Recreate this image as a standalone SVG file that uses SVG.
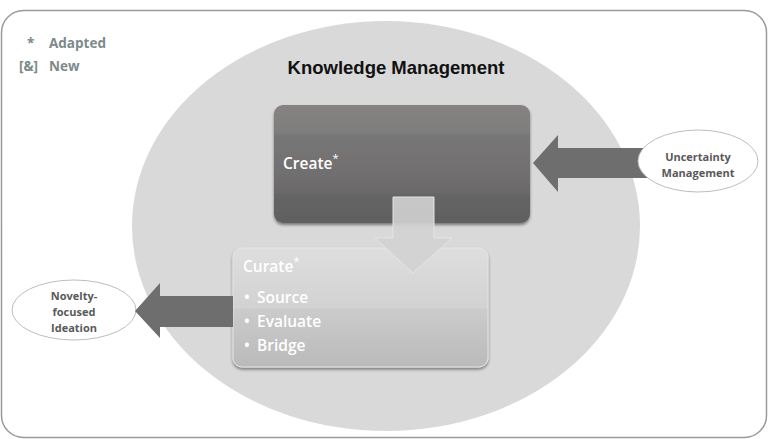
<svg xmlns="http://www.w3.org/2000/svg" width="768" height="439" viewBox="0 0 768 439">
<defs>
<linearGradient id="gCreate" x1="0" y1="0" x2="0" y2="1">
<stop offset="0" stop-color="#878282"/>
<stop offset="0.24" stop-color="#7e7d7d"/>
<stop offset="0.26" stop-color="#777676"/>
<stop offset="0.5" stop-color="#737171"/>
<stop offset="0.74" stop-color="#6b6a6a"/>
<stop offset="0.76" stop-color="#656565"/>
<stop offset="1" stop-color="#606060"/>
</linearGradient>
<linearGradient id="gCurate" x1="0" y1="0" x2="0" y2="1">
<stop offset="0" stop-color="#dedede"/>
<stop offset="0.5" stop-color="#d2d2d2"/>
<stop offset="0.52" stop-color="#cbcbcb"/>
<stop offset="1" stop-color="#bababa"/>
</linearGradient>
<filter id="sh" x="-10%" y="-10%" width="120%" height="130%">
<feGaussianBlur in="SourceAlpha" stdDeviation="1.5"/>
<feOffset dx="0" dy="2" result="b"/>
<feComponentTransfer><feFuncA type="linear" slope="0.45"/></feComponentTransfer>
<feMerge><feMergeNode/><feMergeNode in="SourceGraphic"/></feMerge>
</filter>
</defs>
<style>
.legend{font-family:"Open Sans","Liberation Sans",sans-serif;font-weight:bold;font-size:13.5px;fill:#7c8a8a}
.title{font-family:"Liberation Sans",Arial,sans-serif;font-weight:bold;font-size:18.5px;fill:#111}
.box{font-family:"Open Sans","Liberation Sans",sans-serif;font-weight:600;font-size:15.5px;fill:#ffffff}
.sup{font-family:"Open Sans","Liberation Sans",sans-serif;font-weight:normal;font-size:11px;fill:#ffffff}
.ext{font-family:"Open Sans","Liberation Sans",sans-serif;font-weight:bold;font-size:11px;fill:#595959;text-anchor:middle}
.arrow{fill:#6e6e6e}
.oval{fill:#ffffff;stroke:#bdbdbd;stroke-width:1}
</style>
<rect x="1.5" y="10.5" width="765" height="427" rx="22" fill="#ffffff" stroke="#9a9a9a" stroke-width="1.5"/>
<g id="legend">
<text class="legend" x="27" y="48">*</text>
<text class="legend" x="49" y="48">Adapted</text>
<text class="legend" x="19" y="71">[&amp;]</text>
<text class="legend" x="49" y="71">New</text>
</g>
<g id="knowledge-management">
<ellipse cx="386" cy="226" rx="254" ry="205" fill="#d9d9d9"/>
<text class="title" x="396" y="74" text-anchor="middle">Knowledge Management</text>
</g>
<g id="create">
<rect x="274" y="105" width="256" height="118" rx="9" fill="url(#gCreate)" filter="url(#sh)"/>
<text class="box" x="283" y="169" font-size="16">Create<tspan class="sup" dy="-7">*</tspan></text>
</g>
<g id="curate">
<rect x="233" y="248" width="255" height="119" rx="9" fill="url(#gCurate)" stroke="#e4e4e4" stroke-width="1" filter="url(#sh)"/>
<text class="box" x="243" y="272">Curate<tspan class="sup" dy="-7">*</tspan></text>
<text class="box" x="244" y="303">•</text><text class="box" x="257" y="303">Source</text>
<text class="box" x="244" y="327">•</text><text class="box" x="257" y="327">Evaluate</text>
<text class="box" x="244" y="351">•</text><text class="box" x="257" y="351">Bridge</text>
</g>
<g id="novelty">
<ellipse class="oval" cx="74" cy="310" rx="62" ry="30"/>
<text class="ext" x="74" y="300">Novelty-</text>
<text class="ext" x="74" y="316">focused</text>
<text class="ext" x="74" y="332">Ideation</text>
</g>
<g id="connectors">
<path class="arrow" d="M233,296 L160,296 L160,283 L135,311 L160,338 L160,327 L233,327 Z"/>
<path class="arrow" d="M648,148 L558,148 L558,135 L533,163 L558,192 L558,178 L648,178 Z"/>
<path d="M393,197 L434,197 L434,238 L452,238 L413,273 L375,238 L393,238 Z" fill="#d2d2d2" fill-opacity="0.9" stroke="#e4e4e4" stroke-width="1"/>
</g>
<g id="uncertainty">
<ellipse class="oval" cx="698" cy="161" rx="60" ry="31"/>
<text class="ext" x="698" y="161">Uncertainty</text>
<text class="ext" x="698" y="177">Management</text>
</g>
</svg>
